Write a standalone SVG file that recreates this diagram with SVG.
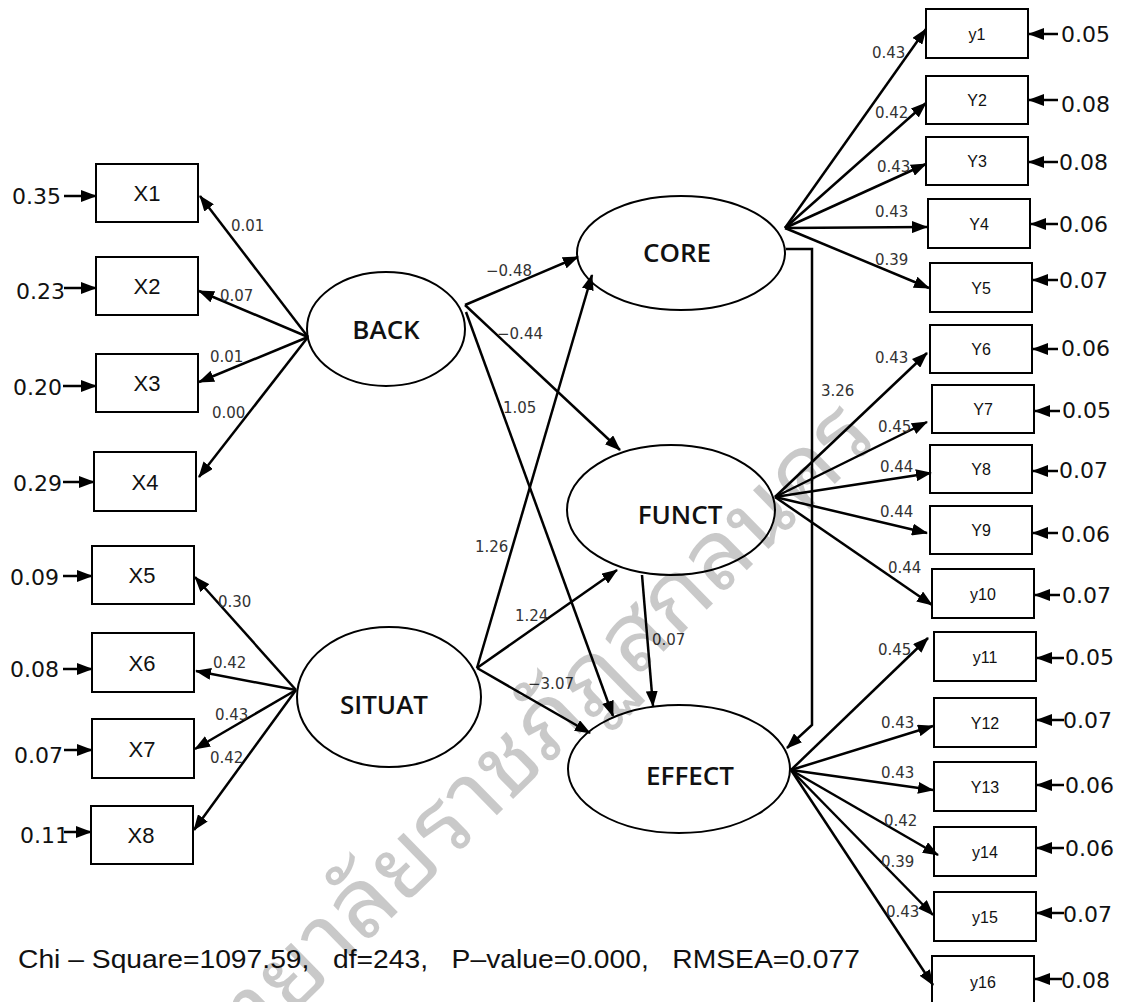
<svg xmlns="http://www.w3.org/2000/svg" width="1127" height="1002" viewBox="0 0 1127 1002">
  <defs>
    <marker id="ah" viewBox="0 0 16 12" refX="15" refY="6" markerWidth="16" markerHeight="12" markerUnits="userSpaceOnUse" orient="auto">
      <path d="M0,0 L16,6 L0,12 Z" fill="#000"/>
    </marker>
    <style>
      .box { fill: #fff; stroke: #000; stroke-width: 2; }
      .lat { fill: #fff; stroke: #000; stroke-width: 2; }
      .arr { fill: none; stroke: #000; stroke-width: 2.5; marker-end: url(#ah); }
      .bx { font-family: "Liberation Sans", Arial, sans-serif; font-size: 22px; text-anchor: middle; fill: #111; }
      .by { font-family: "Liberation Sans", Arial, sans-serif; font-size: 16px; text-anchor: middle; fill: #111; }
      .lv { font-family: "Open Sans", "Noto Sans", sans-serif; font-size: 26px; font-weight: 600; text-anchor: middle; fill: #111; }
      .err { font-family: "DejaVu Sans", sans-serif; font-size: 22px; fill: #111; }
      .coef { font-family: "DejaVu Sans", sans-serif; font-size: 15px; fill: #333; }
      .fit { font-family: "Liberation Sans", Arial, sans-serif; font-size: 25px; fill: #111; }
      .wm { font-family: "Noto Sans Thai Looped", "Noto Serif Thai", "Noto Sans Thai", "Noto Sans", sans-serif; font-size: 95px; fill: #000; fill-opacity: 0.21; }
    </style>
  </defs>

  <!-- observed indicators of BACK -->
  <g id="X1"><rect class="box" x="96" y="164" width="102" height="58"/><text class="bx" x="147" y="201">X1</text></g>
  <g id="X2"><rect class="box" x="96" y="257" width="102" height="58"/><text class="bx" x="147" y="294">X2</text></g>
  <g id="X3"><rect class="box" x="96" y="354" width="102" height="58"/><text class="bx" x="147" y="391">X3</text></g>
  <g id="X4"><rect class="box" x="94" y="452" width="102" height="59"/><text class="bx" x="145" y="490">X4</text></g>

  <!-- observed indicators of SITUAT -->
  <g id="X5"><rect class="box" x="92" y="546" width="102" height="58"/><text class="bx" x="142" y="583">X5</text></g>
  <g id="X6"><rect class="box" x="92" y="633" width="102" height="59"/><text class="bx" x="142" y="671">X6</text></g>
  <g id="X7"><rect class="box" x="92" y="719" width="102" height="59"/><text class="bx" x="142" y="757">X7</text></g>
  <g id="X8"><rect class="box" x="91" y="806" width="102" height="58"/><text class="bx" x="141" y="843">X8</text></g>

  <!-- latent variables -->
  <g id="BACK"><ellipse class="lat" cx="386" cy="329" rx="79" ry="57"/><text class="lv" x="386" y="339">BACK</text></g>
  <g id="SITUAT"><ellipse class="lat" cx="389" cy="697" rx="92" ry="70"/><text class="lv" x="384" y="714">SITUAT</text></g>
  <g id="CORE"><ellipse class="lat" cx="681" cy="253" rx="104" ry="57"/><text class="lv" x="677" y="262">CORE</text></g>
  <g id="FUNCT"><ellipse class="lat" cx="671" cy="510" rx="104" ry="65"/><text class="lv" x="680" y="524">FUNCT</text></g>
  <g id="EFFECT"><ellipse class="lat" cx="679" cy="769" rx="111" ry="64"/><text class="lv" x="690" y="785">EFFECT</text></g>

  <!-- indicators of CORE -->
  <g id="y1"><rect class="box" x="926" y="9" width="102" height="49"/><text class="by" x="977" y="40">y1</text></g>
  <g id="Y2"><rect class="box" x="926" y="76" width="102" height="48"/><text class="by" x="977" y="106">Y2</text></g>
  <g id="Y3"><rect class="box" x="926" y="137" width="102" height="48"/><text class="by" x="977" y="167">Y3</text></g>
  <g id="Y4"><rect class="box" x="928" y="199" width="102" height="49"/><text class="by" x="979" y="230">Y4</text></g>
  <g id="Y5"><rect class="box" x="930" y="263" width="102" height="49"/><text class="by" x="981" y="294">Y5</text></g>

  <!-- indicators of FUNCT -->
  <g id="Y6"><rect class="box" x="930" y="325" width="102" height="48"/><text class="by" x="981" y="355">Y6</text></g>
  <g id="Y7"><rect class="box" x="932" y="385" width="102" height="48"/><text class="by" x="983" y="415">Y7</text></g>
  <g id="Y8"><rect class="box" x="930" y="445" width="102" height="48"/><text class="by" x="981" y="475">Y8</text></g>
  <g id="Y9"><rect class="box" x="930" y="506" width="102" height="48"/><text class="by" x="981" y="536">Y9</text></g>
  <g id="y10"><rect class="box" x="932" y="569" width="102" height="49"/><text class="by" x="983" y="600">y10</text></g>

  <!-- indicators of EFFECT -->
  <g id="y11"><rect class="box" x="934" y="632" width="102" height="49"/><text class="by" x="985" y="663">y11</text></g>
  <g id="Y12"><rect class="box" x="934" y="698" width="102" height="49"/><text class="by" x="985" y="729">Y12</text></g>
  <g id="Y13"><rect class="box" x="934" y="762" width="102" height="49"/><text class="by" x="985" y="793">Y13</text></g>
  <g id="y14"><rect class="box" x="934" y="827" width="102" height="49"/><text class="by" x="985" y="858">y14</text></g>
  <g id="y15"><rect class="box" x="934" y="892" width="102" height="49"/><text class="by" x="985" y="923">y15</text></g>
  <g id="y16"><rect class="box" x="932" y="956" width="102" height="50"/><text class="by" x="983" y="988">y16</text></g>

  <g id="connectors">
    <!-- error terms, left -->
    <line class="arr" x1="64" y1="196" x2="96" y2="196"/>
    <line class="arr" x1="64" y1="288" x2="96" y2="288"/>
    <line class="arr" x1="63" y1="386" x2="96" y2="386"/>
    <line class="arr" x1="63" y1="482" x2="94" y2="482"/>
    <line class="arr" x1="63" y1="576" x2="92" y2="576"/>
    <line class="arr" x1="63" y1="669" x2="92" y2="669"/>
    <line class="arr" x1="64" y1="750" x2="92" y2="750"/>
    <line class="arr" x1="64" y1="832" x2="91" y2="832"/>

    <!-- BACK loadings -->
    <line class="arr" x1="308" y1="337" x2="200" y2="196"/>
    <line class="arr" x1="308" y1="337" x2="199" y2="291"/>
    <line class="arr" x1="308" y1="337" x2="199" y2="382"/>
    <line class="arr" x1="308" y1="337" x2="199" y2="477"/>

    <!-- SITUAT loadings -->
    <line class="arr" x1="296" y1="690" x2="195" y2="577"/>
    <line class="arr" x1="296" y1="690" x2="196" y2="671"/>
    <line class="arr" x1="296" y1="690" x2="195" y2="749"/>
    <line class="arr" x1="296" y1="690" x2="194" y2="830"/>

    <!-- structural paths -->
    <line class="arr" x1="465" y1="305" x2="578" y2="257"/>
    <line class="arr" x1="465" y1="305" x2="620" y2="450"/>
    <line class="arr" x1="466" y1="312" x2="613" y2="716"/>
    <line class="arr" x1="477" y1="668" x2="592" y2="275"/>
    <line class="arr" x1="477" y1="668" x2="617" y2="570"/>
    <line class="arr" x1="477" y1="668" x2="590" y2="733"/>
    <line class="arr" x1="642" y1="575" x2="653" y2="706"/>
    <polyline class="arr" points="786,249 812,249 812,725 787,748"/>

    <!-- CORE loadings -->
    <line class="arr" x1="785" y1="228" x2="926" y2="29"/>
    <line class="arr" x1="785" y1="228" x2="926" y2="103"/>
    <line class="arr" x1="785" y1="228" x2="926" y2="164"/>
    <line class="arr" x1="785" y1="228" x2="927" y2="227"/>
    <line class="arr" x1="785" y1="228" x2="929" y2="288"/>

    <!-- FUNCT loadings -->
    <line class="arr" x1="775" y1="497" x2="927" y2="353"/>
    <line class="arr" x1="775" y1="497" x2="927" y2="422"/>
    <line class="arr" x1="775" y1="497" x2="931" y2="473"/>
    <line class="arr" x1="775" y1="497" x2="927" y2="533"/>
    <line class="arr" x1="775" y1="497" x2="932" y2="605"/>

    <!-- EFFECT loadings -->
    <line class="arr" x1="791" y1="770" x2="928" y2="638"/>
    <line class="arr" x1="791" y1="770" x2="933" y2="726"/>
    <line class="arr" x1="791" y1="770" x2="933" y2="790"/>
    <line class="arr" x1="791" y1="770" x2="938" y2="855"/>
    <line class="arr" x1="791" y1="770" x2="933" y2="915"/>
    <line class="arr" x1="791" y1="770" x2="933" y2="985"/>

    <!-- error terms, right -->
    <line class="arr" x1="1058" y1="34" x2="1029" y2="34"/>
    <line class="arr" x1="1058" y1="100" x2="1029" y2="100"/>
    <line class="arr" x1="1058" y1="162" x2="1029" y2="162"/>
    <line class="arr" x1="1058" y1="224" x2="1031" y2="224"/>
    <line class="arr" x1="1058" y1="280" x2="1033" y2="280"/>
    <line class="arr" x1="1058" y1="349" x2="1033" y2="349"/>
    <line class="arr" x1="1060" y1="411" x2="1035" y2="411"/>
    <line class="arr" x1="1058" y1="471" x2="1033" y2="471"/>
    <line class="arr" x1="1058" y1="533" x2="1033" y2="533"/>
    <line class="arr" x1="1060" y1="595" x2="1035" y2="595"/>
    <line class="arr" x1="1064" y1="658" x2="1037" y2="658"/>
    <line class="arr" x1="1064" y1="720" x2="1037" y2="720"/>
    <line class="arr" x1="1064" y1="785" x2="1037" y2="785"/>
    <line class="arr" x1="1064" y1="848" x2="1037" y2="848"/>
    <line class="arr" x1="1064" y1="913" x2="1037" y2="913"/>
    <line class="arr" x1="1062" y1="979" x2="1035" y2="979"/>
  </g>

  <!-- error variances -->
  <g id="error-values">
    <text class="err" x="12" y="204">0.35</text>
    <text class="err" x="16" y="299">0.23</text>
    <text class="err" x="13" y="395">0.20</text>
    <text class="err" x="13" y="491">0.29</text>
    <text class="err" x="10" y="585">0.09</text>
    <text class="err" x="10" y="677">0.08</text>
    <text class="err" x="14" y="763">0.07</text>
    <text class="err" x="20" y="843">0.11</text>

    <text class="err" x="1061" y="42">0.05</text>
    <text class="err" x="1061" y="112">0.08</text>
    <text class="err" x="1059" y="170">0.08</text>
    <text class="err" x="1059" y="232">0.06</text>
    <text class="err" x="1059" y="288">0.07</text>
    <text class="err" x="1061" y="356">0.06</text>
    <text class="err" x="1062" y="418">0.05</text>
    <text class="err" x="1059" y="478">0.07</text>
    <text class="err" x="1061" y="542">0.06</text>
    <text class="err" x="1062" y="603">0.07</text>
    <text class="err" x="1065" y="665">0.05</text>
    <text class="err" x="1063" y="728">0.07</text>
    <text class="err" x="1065" y="793">0.06</text>
    <text class="err" x="1065" y="856">0.06</text>
    <text class="err" x="1063" y="922">0.07</text>
    <text class="err" x="1061" y="988">0.08</text>
  </g>

  <!-- path coefficients -->
  <g id="coefficients">
    <text class="coef" x="231" y="231">0.01</text>
    <text class="coef" x="220" y="301">0.07</text>
    <text class="coef" x="210" y="362">0.01</text>
    <text class="coef" x="212" y="418">0.00</text>
    <text class="coef" x="218" y="607">0.30</text>
    <text class="coef" x="213" y="668">0.42</text>
    <text class="coef" x="215" y="720">0.43</text>
    <text class="coef" x="210" y="763">0.42</text>

    <text class="coef" x="486" y="276">−0.48</text>
    <text class="coef" x="497" y="339">−0.44</text>
    <text class="coef" x="503" y="413">1.05</text>
    <text class="coef" x="475" y="552">1.26</text>
    <text class="coef" x="515" y="621">1.24</text>
    <text class="coef" x="528" y="689">−3.07</text>
    <text class="coef" x="652" y="645">0.07</text>
    <text class="coef" x="821" y="396">3.26</text>

    <text class="coef" x="872" y="58">0.43</text>
    <text class="coef" x="875" y="118">0.42</text>
    <text class="coef" x="877" y="172">0.43</text>
    <text class="coef" x="875" y="217">0.43</text>
    <text class="coef" x="875" y="265">0.39</text>
    <text class="coef" x="875" y="363">0.43</text>
    <text class="coef" x="878" y="432">0.45</text>
    <text class="coef" x="880" y="472">0.44</text>
    <text class="coef" x="880" y="517">0.44</text>
    <text class="coef" x="888" y="573">0.44</text>
    <text class="coef" x="878" y="655">0.45</text>
    <text class="coef" x="881" y="728">0.43</text>
    <text class="coef" x="881" y="778">0.43</text>
    <text class="coef" x="884" y="826">0.42</text>
    <text class="coef" x="881" y="867">0.39</text>
    <text class="coef" x="886" y="917">0.43</text>
  </g>

  <!-- model fit -->
  <text class="fit" x="18" y="968" textLength="842" lengthAdjust="spacingAndGlyphs" xml:space="preserve">Chi – Square=1097.59,   df=243,   P–value=0.000,   RMSEA=0.077</text>

  <!-- watermark -->
  <text class="wm" transform="translate(212,1094) rotate(-44.4)" textLength="935" lengthAdjust="spacingAndGlyphs">วิทยาลัยราชภัฏสกลนคร</text>
</svg>
